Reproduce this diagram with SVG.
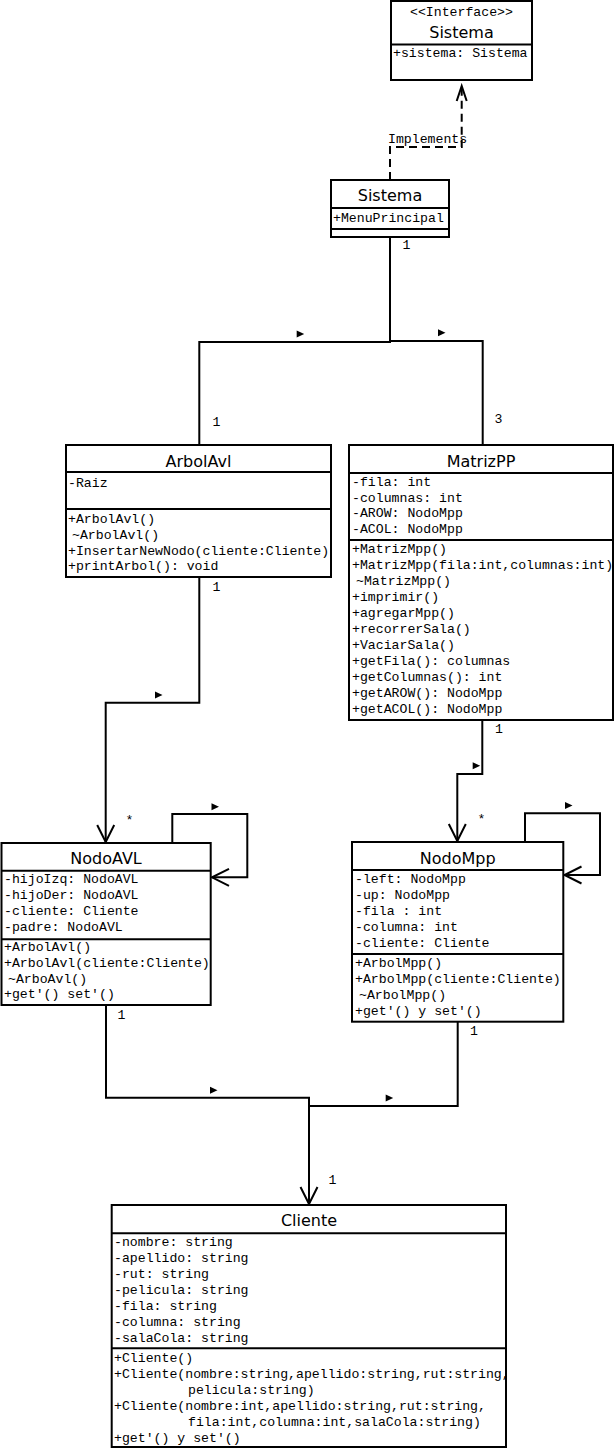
<svg xmlns="http://www.w3.org/2000/svg" xmlns:xlink="http://www.w3.org/1999/xlink" width="615" height="1450" viewBox="0 0 615 1450">
<style>
.box{fill:#fff;stroke:#000;stroke-width:2}
.div{stroke:#000;stroke-width:2}
.t{font-family:"DejaVu Sans",sans-serif;font-size:16px;fill:#000;text-anchor:middle}
.m{font-family:"Liberation Mono","Courier New",monospace;font-size:13.2px;fill:#000}
.c{fill:none;stroke:#000;stroke-width:2}
.dash{stroke-dasharray:8,5}
</style>
<defs>
<marker id="open" markerUnits="userSpaceOnUse" markerWidth="22" markerHeight="22" viewBox="-19 -11 22 22" refX="0" refY="0" orient="auto">
<path d="M-17,-8.5 L0,0 L-17,8.5" fill="none" stroke="#000" stroke-width="2"/>
</marker>
<marker id="real" markerUnits="userSpaceOnUse" markerWidth="20" markerHeight="20" viewBox="-17 -10 20 20" refX="0" refY="0" orient="auto">
<path d="M-15,-5 L0,0 L-15,5" fill="none" stroke="#000" stroke-width="2"/>
</marker>
<path id="dir" d="M0,-3.5 L7.5,0 L0,3.5 Z" fill="#000"/>
</defs>
<rect width="615" height="1450" fill="#fff"/>

<g id="connectors">
<path class="c dash" d="M390,180 V147 H461.7 V86" marker-end="url(#real)"/>
<text class="m" x="388" y="143.3">Implements</text>
<path class="c" d="M390,237 V342 H199.3 V445"/>
<path class="c" d="M390,341 H482.7 V445"/>
<path class="c" d="M199.3,577 V702.7 H105.7 V842" marker-end="url(#open)"/>
<path class="c" d="M482.3,720 V774 H457.3 V841" marker-end="url(#open)"/>
<path class="c" d="M172.3,843 V814 H247.3 V877.3 H212" marker-end="url(#open)"/>
<path class="c" d="M525,842 V813.3 H600 V875 H564.5" marker-end="url(#open)"/>
<path class="c" d="M106,1005 V1097.7 H309 V1204" marker-end="url(#open)"/>
<path class="c" d="M457.7,1022 V1106 H309"/>
<use xlink:href="#dir" x="296.7" y="334"/>
<use xlink:href="#dir" x="438" y="332.7"/>
<use xlink:href="#dir" x="155" y="695"/>
<use xlink:href="#dir" x="211.5" y="806.7"/>
<use xlink:href="#dir" x="565" y="805.5"/>
<use xlink:href="#dir" x="472.7" y="765.8"/>
<use xlink:href="#dir" x="210" y="1090.3"/>
<use xlink:href="#dir" x="385.7" y="1098"/>
<text class="m" x="402.5" y="249.3">1</text>
<text class="m" x="212.5" y="426">1</text>
<text class="m" x="494.5" y="423.3">3</text>
<text class="m" x="212.5" y="590.7">1</text>
<text class="m" x="125.5" y="824">*</text>
<text class="m" x="495" y="733.3">1</text>
<text class="m" x="477.5" y="823">*</text>
<text class="m" x="117.5" y="1019.3">1</text>
<text class="m" x="470" y="1035">1</text>
<text class="m" x="328.5" y="1184">1</text>
</g>

<g id="interface-sistema">
<rect class="box" x="391" y="1" width="141" height="79"/>
<line class="div" x1="391" y1="44.5" x2="532" y2="44.5"/>
<text class="m" x="461.5" y="16" text-anchor="middle">&lt;&lt;Interface&gt;&gt;</text>
<text class="t" x="461.5" y="37.5">Sistema</text>
<text class="m" x="393" y="57.3">+sistema: Sistema</text>
</g>

<g id="sistema">
<rect class="box" x="331" y="180" width="118" height="57"/>
<line class="div" x1="331" y1="208" x2="449" y2="208"/>
<line class="div" x1="331" y1="229" x2="449" y2="229"/>
<text class="t" x="390" y="201">Sistema</text>
<text class="m" x="333" y="221.7">+MenuPrincipal</text>
</g>

<g id="arbolavl">
<rect class="box" x="66" y="445" width="265" height="132"/>
<line class="div" x1="66" y1="472" x2="331" y2="472"/>
<line class="div" x1="66" y1="509" x2="331" y2="509"/>
<text class="t" x="198.5" y="466.5">ArbolAvl</text>
<text class="m" x="68" y="487">-Raiz</text>
<text class="m" x="68" y="523.3">+ArbolAvl()</text>
<text class="m" x="72" y="538.9">~ArbolAvl()</text>
<text class="m" x="68" y="554.5">+InsertarNewNodo(cliente:Cliente)</text>
<text class="m" x="68" y="570">+printArbol(): void</text>
</g>

<g id="matrizpp">
<rect class="box" x="349" y="445" width="264" height="275"/>
<line class="div" x1="349" y1="473" x2="613" y2="473"/>
<line class="div" x1="349" y1="540" x2="613" y2="540"/>
<text class="t" x="481" y="467">MatrizPP</text>
<text class="m" x="352" y="485.7">-fila: int</text>
<text class="m" x="352" y="501.5">-columnas: int</text>
<text class="m" x="352" y="517.4">-AROW: NodoMpp</text>
<text class="m" x="352" y="533.3">-ACOL: NodoMpp</text>
<text class="m" x="352" y="553.3">+MatrizMpp()</text>
<text class="m" x="352" y="569.2">+MatrizMpp(fila:int,columnas:int)</text>
<text class="m" x="356" y="585.2">~MatrizMpp()</text>
<text class="m" x="352" y="601.1">+imprimir()</text>
<text class="m" x="352" y="617.1">+agregarMpp()</text>
<text class="m" x="352" y="633">+recorrerSala()</text>
<text class="m" x="352" y="648.9">+VaciarSala()</text>
<text class="m" x="352" y="664.9">+getFila(): columnas</text>
<text class="m" x="352" y="680.8">+getColumnas(): int</text>
<text class="m" x="352" y="696.8">+getAROW(): NodoMpp</text>
<text class="m" x="352" y="712.7">+getACOL(): NodoMpp</text>
</g>

<g id="nodoavl">
<rect class="box" x="1.5" y="843" width="209.2" height="162"/>
<line class="div" x1="1.5" y1="870.7" x2="210.7" y2="870.7"/>
<line class="div" x1="1.5" y1="939.3" x2="210.7" y2="939.3"/>
<text class="t" x="106" y="864">NodoAVL</text>
<text class="m" x="4" y="883.3">-hijoIzq: NodoAVL</text>
<text class="m" x="4" y="899">-hijoDer: NodoAVL</text>
<text class="m" x="4" y="915">-cliente: Cliente</text>
<text class="m" x="4" y="930.7">-padre: NodoAVL</text>
<text class="m" x="4" y="951">+ArbolAvl()</text>
<text class="m" x="4" y="967">+ArbolAvl(cliente:Cliente)</text>
<text class="m" x="8" y="982.7">~ArboAvl()</text>
<text class="m" x="4" y="998.3">+get'() set'()</text>
</g>

<g id="nodompp">
<rect class="box" x="352" y="842" width="211.3" height="179.7"/>
<line class="div" x1="352" y1="870" x2="563.3" y2="870"/>
<line class="div" x1="352" y1="954" x2="563.3" y2="954"/>
<text class="t" x="457.7" y="864">NodoMpp</text>
<text class="m" x="355" y="883.3">-left: NodoMpp</text>
<text class="m" x="355" y="899.3">-up: NodoMpp</text>
<text class="m" x="355" y="915.2">-fila : int</text>
<text class="m" x="355" y="931.1">-columna: int</text>
<text class="m" x="355" y="947">-cliente: Cliente</text>
<text class="m" x="355" y="967.3">+ArbolMpp()</text>
<text class="m" x="355" y="983.2">+ArbolMpp(cliente:Cliente)</text>
<text class="m" x="359" y="999.1">~ArbolMpp()</text>
<text class="m" x="355" y="1015">+get'() y set'()</text>
</g>

<g id="cliente">
<rect class="box" x="111.7" y="1205" width="394.3" height="242"/>
<line class="div" x1="111.7" y1="1233.3" x2="506" y2="1233.3"/>
<line class="div" x1="111.7" y1="1348.3" x2="506" y2="1348.3"/>
<text class="t" x="309" y="1225.5">Cliente</text>
<text class="m" x="114" y="1245.7">-nombre: string</text>
<text class="m" x="114" y="1261.7">-apellido: string</text>
<text class="m" x="114" y="1277.7">-rut: string</text>
<text class="m" x="114" y="1293.7">-pelicula: string</text>
<text class="m" x="114" y="1309.7">-fila: string</text>
<text class="m" x="114" y="1325.7">-columna: string</text>
<text class="m" x="114" y="1341.7">-salaCola: string</text>
<text class="m" x="114" y="1362.3">+Cliente()</text>
<text class="m" x="114" y="1378.3">+Cliente(nombre:string,apellido:string,rut:string,</text>
<text class="m" x="188" y="1394.3">pelicula:string)</text>
<text class="m" x="114" y="1410.3">+Cliente(nombre:int,apellido:string,rut:string,</text>
<text class="m" x="188" y="1426.3">fila:int,columna:int,salaCola:string)</text>
<text class="m" x="114" y="1442.3">+get'() y set'()</text>
</g>
</svg>
